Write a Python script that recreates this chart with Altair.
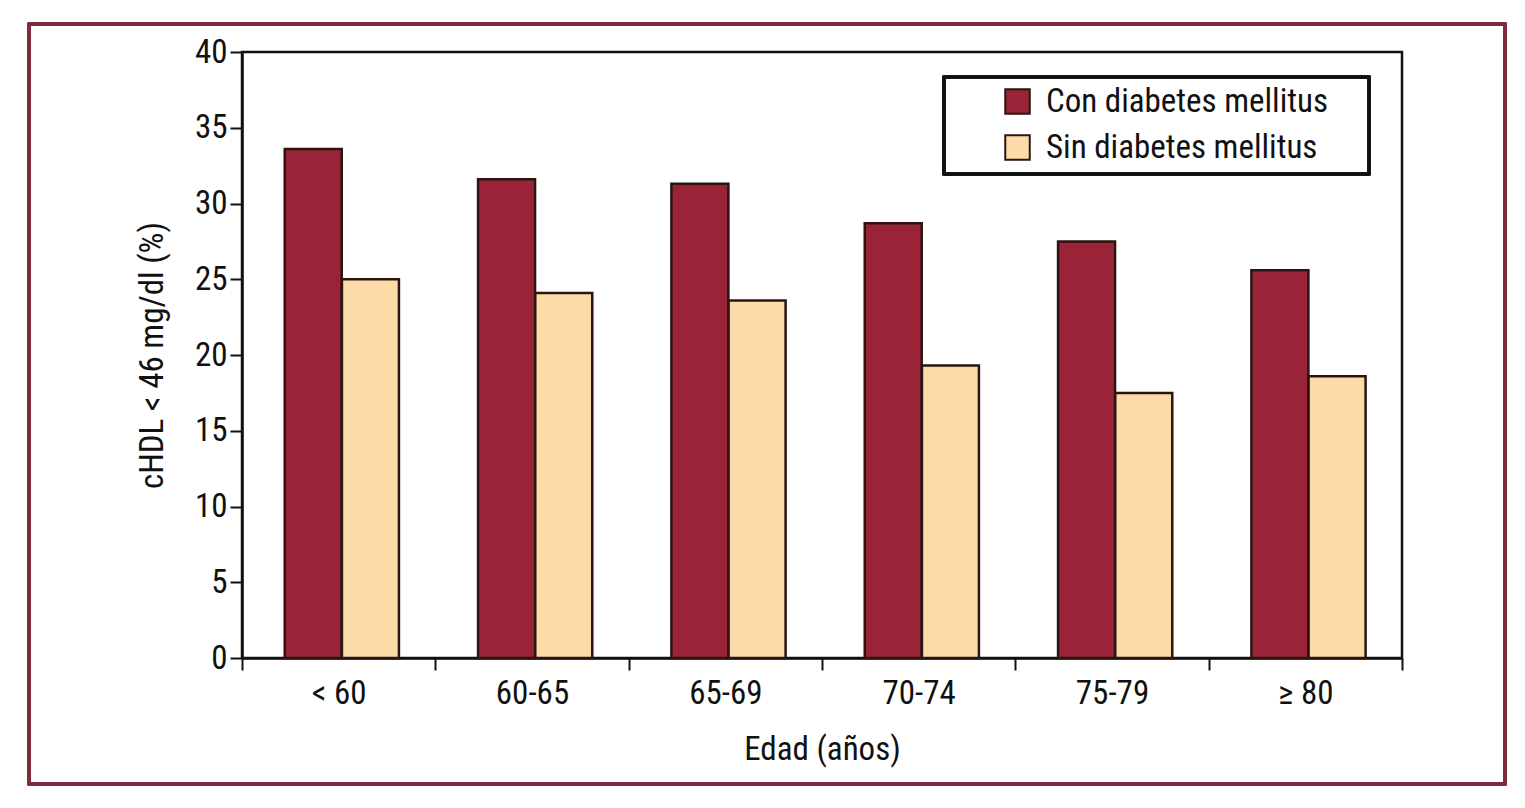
import altair as alt
import pandas as pd

categories = ["< 60", "60-65", "65-69", "70-74", "75-79", "≥ 80"]
con_dm = [33.6, 31.6, 31.3, 28.7, 27.5, 25.6]
sin_dm = [25.0, 24.1, 23.6, 19.3, 17.5, 18.6]
series = ["Con diabetes mellitus", "Sin diabetes mellitus"]
colors = ["#9b2338", "#fddba8"]
y_ticks = [0, 5, 10, 15, 20, 25, 30, 35, 40]

rows = []
for c, a, b in zip(categories, con_dm, sin_dm):
    rows.append({"edad": c, "grupo": series[0], "valor": a})
    rows.append({"edad": c, "grupo": series[1], "valor": b})
df = pd.DataFrame(rows)

FONT = "Roboto Condensed, Roboto"
FS = 33
W, H = 1160, 606

bars = alt.Chart(df).mark_bar(stroke="#2a1512", strokeWidth=2.5, size=57).encode(
    x=alt.X("edad:N", sort=categories, title="Edad (años)",
            scale=alt.Scale(paddingInner=0, paddingOuter=0),
            axis=alt.Axis(tickBand="extent", labelAngle=0, labelFontSize=FS,
                          labelFont=FONT, labelColor="#111", labelPadding=7,
                          tickSize=12, tickWidth=2, tickColor="#111",
                          domainColor="#111", domainWidth=2.5,
                          titleFont=FONT, titleFontSize=FS, titleFontWeight="normal",
                          titleColor="#111", titlePadding=23)),
    xOffset=alt.XOffset("grupo:N", sort=series,
                        scale=alt.Scale(paddingInner=0, paddingOuter=0.69, align=0.54)),
    y=alt.Y("valor:Q", title="cHDL < 46 mg/dl (%)",
            scale=alt.Scale(domain=[0, 40], nice=False),
            axis=alt.Axis(values=y_ticks, grid=False, labelFontSize=FS, labelFont=FONT,
                          labelColor="#111", labelPadding=3, tickSize=12, tickWidth=2,
                          tickColor="#111", domainColor="#111", domainWidth=2.5,
                          titleFont=FONT, titleFontSize=FS, titleFontWeight="normal",
                          titleColor="#111", titlePadding=25)),
    color=alt.Color("grupo:N", sort=series,
                    scale=alt.Scale(domain=series, range=colors),
                    legend=alt.Legend(title=None, orient="none", legendX=759, legendY=33,
                                      symbolType="square", symbolSize=600,
                                      symbolStrokeColor="#2a1512", symbolStrokeWidth=2,
                                      labelFont=FONT, labelFontSize=FS, labelColor="#111",
                                      labelOffset=12, labelLimit=500, rowPadding=12,
                                      padding=0)),
)

legend_box = alt.Chart(df).mark_rect(fill=None, stroke="#111", strokeWidth=2.5).encode(
    x=alt.value(702), x2=alt.value(1127), y=alt.value(25), y2=alt.value(122)
)

frame = alt.Chart(df).mark_rect(fill=None, stroke="#7d2a3c", strokeWidth=2.5).encode(
    x=alt.value(-213), x2=alt.value(1263), y=alt.value(-28), y2=alt.value(732)
)

chart = alt.layer(frame, bars, legend_box).properties(
    width=W, height=H,
    padding={"left": 19, "top": 14, "right": 5, "bottom": 5},
    background="white",
).configure_view(stroke="#111", strokeWidth=2.5)

chart.save("out.html", embed_options={"renderer": "svg", "actions": False})
